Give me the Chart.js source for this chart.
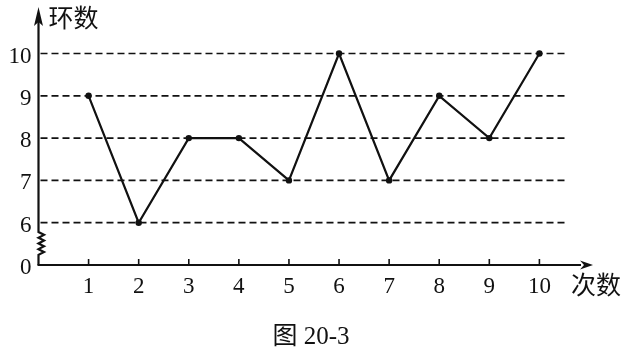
<!DOCTYPE html>
<html>
<head>
<meta charset="utf-8">
<script src="https://cdn.jsdelivr.net/npm/chart.js@4"></script>
<style>
  html, body { margin: 0; padding: 0; background: #fff; }
  #c { display: block; }
</style>
</head>
<body>
<canvas id="c" width="629" height="351"></canvas>
<script>
// 射击成绩折线图 — 图 20-3
const shots = [1, 2, 3, 4, 5, 6, 7, 8, 9, 10];
const rings = [9, 6, 8, 8, 7, 10, 7, 9, 8, 10];
const yTickLabels = ['0', '6', '7', '8', '9', '10'];
const yTickValues = [0, 6, 7, 8, 9, 10];
const gridValues = [6, 7, 8, 9, 10];
const yTitle = '环数';
const xTitle = '次数';
const caption = '图 20-3';

// 纵轴在 0 与 6 之间折断：6 以上的值压到 1 起
const toAxis = v => (v >= 6 ? v - 5 : v);

const serif = '"Liberation Serif", "DejaVu Serif", serif';
const cjk = '"Noto Sans CJK SC", sans-serif';

const axesPlugin = {
  id: 'axesPlugin',
  afterDatasetsDraw(chart) {
    const { ctx, scales: { x, y } } = chart;
    const x0 = x.getPixelForValue(0);
    const y0 = y.getPixelForValue(0);
    const xEnd = x.getPixelForValue(x.max);
    const yTop = y.getPixelForValue(y.max);
    ctx.save();
    ctx.strokeStyle = '#111';
    ctx.fillStyle = '#111';

    // 虚线
    ctx.lineWidth = 1.7;
    ctx.setLineDash([7, 4]);
    gridValues.forEach(v => {
      const py = y.getPixelForValue(toAxis(v));
      ctx.beginPath();
      ctx.moveTo(x0 + 2, py);
      ctx.lineTo(x.getPixelForValue(10.56), py);
      ctx.stroke();
    });
    ctx.setLineDash([]);

    // 纵轴（含折断符号）
    ctx.lineWidth = 2.2;
    const zTop = y.getPixelForValue(0.78);
    const zBot = y.getPixelForValue(0.24);
    ctx.beginPath();
    ctx.moveTo(x0, yTop + 14);
    ctx.lineTo(x0, zTop);
    const teeth = 4;
    const step = (zBot - zTop) / (teeth * 2);
    for (let i = 1; i <= teeth * 2; i++) {
      ctx.lineTo(x0 + (i % 2 ? 5.5 : 0), zTop + step * i);
    }
    ctx.lineTo(x0, y0);
    ctx.stroke();
    // 上箭头
    ctx.beginPath();
    ctx.moveTo(x0, yTop);
    ctx.lineTo(x0 - 4.5, yTop + 19);
    ctx.lineTo(x0, yTop + 15);
    ctx.lineTo(x0 + 4.5, yTop + 19);
    ctx.closePath();
    ctx.fill();

    // 横轴
    ctx.beginPath();
    ctx.moveTo(x0 - 1, y0);
    ctx.lineTo(xEnd - 12, y0);
    ctx.stroke();
    ctx.beginPath();
    ctx.moveTo(xEnd, y0);
    ctx.lineTo(xEnd - 13, y0 - 4.5);
    ctx.lineTo(xEnd - 9, y0);
    ctx.lineTo(xEnd - 13, y0 + 4.5);
    ctx.closePath();
    ctx.fill();

    // 横轴刻度
    ctx.lineWidth = 1.6;
    shots.forEach(s => {
      const px = x.getPixelForValue(s);
      ctx.beginPath();
      ctx.moveTo(px, y0);
      ctx.lineTo(px, y0 - 6);
      ctx.stroke();
    });

    // 文字
    ctx.font = '23px ' + serif;
    ctx.textBaseline = 'middle';
    ctx.textAlign = 'center';
    shots.forEach(s => ctx.fillText(String(s), x.getPixelForValue(s), y0 + 22));
    ctx.textAlign = 'right';
    yTickValues.forEach((v, i) => {
      ctx.fillText(yTickLabels[i], x0 - 7, y.getPixelForValue(toAxis(v)) + 3);
    });

    ctx.font = '25px ' + cjk;
    ctx.textAlign = 'left';
    ctx.fillText(yTitle, x0 + 10, yTop + 10);
    ctx.fillText(xTitle, xEnd - 22, y0 + 19);

    ctx.font = '25px ' + serif + ', ' + cjk;
    ctx.textAlign = 'center';
    ctx.fillText(caption, 311, 337);
    ctx.restore();
  }
};

new Chart(document.getElementById('c'), {
  type: 'line',
  data: {
    datasets: [{
      data: shots.map((s, i) => ({ x: s, y: toAxis(rings[i]) })),
      borderColor: '#111',
      borderWidth: 2.2,
      pointRadius: 3.2,
      pointBackgroundColor: '#111',
      pointBorderWidth: 0,
      tension: 0,
    }],
  },
  options: {
    responsive: false,
    animation: false,
    layout: { padding: { left: 38.5, right: 36, top: 7, bottom: 86 } },
    plugins: { legend: { display: false }, tooltip: { enabled: false } },
    scales: {
      x: { type: 'linear', min: 0, max: 11.07, display: false },
      y: { type: 'linear', min: 0, max: 6.1, display: false },
    },
  },
  plugins: [axesPlugin],
});
</script>
</body>
</html>
